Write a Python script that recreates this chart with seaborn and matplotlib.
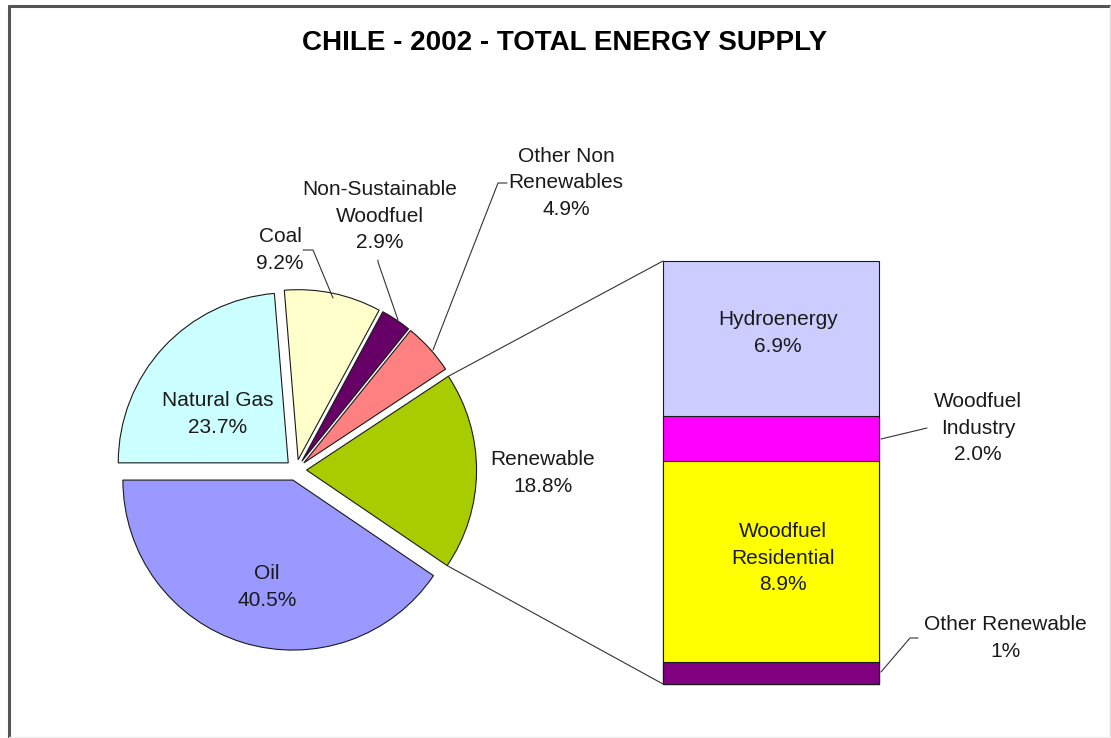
import numpy as np
import matplotlib
matplotlib.use("Agg")
import matplotlib.pyplot as plt
from matplotlib.patches import ConnectionPatch
import seaborn as sns

title = "CHILE - 2002 - TOTAL ENERGY SUPPLY"

# Total energy supply shares (%), counter-clockwise from 9 o'clock
pie_labels = ["Oil", "Renewable", "Other Non\nRenewables",
              "Non-Sustainable\nWoodfuel", "Coal", "Natural Gas"]
pie_values = [40.5, 18.8, 4.9, 2.9, 9.2, 23.7]
pie_colors = ["#9999FF", "#A9CC00", "#FF8080", "#660066", "#FFFFCC", "#CCFFFF"]

# Split of the renewable share, bottom to top
bar_labels = ["Other Renewable", "Woodfuel\nResidential", "Woodfuel\nIndustry", "Hydroenergy"]
bar_values = [1.0, 8.9, 2.0, 6.9]
bar_value_text = ["1%", "8.9%", "2.0%", "6.9%"]
bar_colors = ["#800080", "#FFFF00", "#FF00FF", "#CCCCFF"]

sns.set_theme(style="white")
plt.rcParams["font.family"] = ["Liberation Sans", "DejaVu Sans"]

W, H = 1111, 738
fig = plt.figure(figsize=(W / 100, H / 100), dpi=100)
fig.patch.set_facecolor("white")


def rect(x0, y0, x1, y1):
    return [x0 / W, 1 - y1 / H, (x1 - x0) / W, (y1 - y0) / H]


EDGE = "#1a1a1a"
TXT = "#1a1a1a"

# ---- pie ----
R = 170.0
cx, cy = 296, 470
half = 200
axp = fig.add_axes(rect(cx - half, cy - half, cx + half, cy + half))
wedges, _ = axp.pie(pie_values, colors=pie_colors, startangle=180, counterclock=True,
                    explode=[0.062] * len(pie_values), radius=1.0,
                    wedgeprops=dict(edgecolor=EDGE, linewidth=0.8))
axp.set_xlim(-half / R, half / R)
axp.set_ylim(-half / R, half / R)
axp.axis("off")

# ---- stacked bar for the renewable split ----
axb = fig.add_axes(rect(663, 261, 879, 684))
tops = np.cumsum(bar_values)
for top, col in sorted(zip(tops, bar_colors), reverse=True):
    sns.barplot(x=[0], y=[top], color=col, width=1.0, saturation=1,
                edgecolor=EDGE, linewidth=0.8, ax=axb)
for p in axb.patches:
    p.set_clip_on(False)
axb.set_xlim(-0.5, 0.5)
axb.set_ylim(0, tops[-1])
axb.axis("off")

# connectors from the renewable wedge to the bar
ren = wedges[pie_labels.index("Renewable")]
wc = np.array(ren.center)
for theta, yb in [(ren.theta2, tops[-1]), (ren.theta1, 0.0)]:
    t = np.deg2rad(theta)
    pa = wc + ren.r * np.array([np.cos(t), np.sin(t)])
    con = ConnectionPatch(xyA=tuple(pa), coordsA=axp.transData,
                          xyB=(-0.5, yb), coordsB=axb.transData,
                          color="#333333", linewidth=0.8)
    fig.add_artist(con)

# ---- overlay for text, leaders and frame (pixel coordinates) ----
ov = fig.add_axes([0, 0, 1, 1])
ov.set_xlim(0, W)
ov.set_ylim(H, 0)
ov.axis("off")
ov.patch.set_visible(False)

ov.plot([8.5, 8.5], [5.5, 738], color="#555555", lw=2.2)
ov.plot([8.5, 1111], [5.5, 5.5], color="#555555", lw=2.2)
ov.plot([1109.5, 1109.5], [5.5, 737], color="#dddddd", lw=1)
ov.plot([8.5, 1109.5], [736.5, 736.5], color="#eeeeee", lw=1)

ov.text(565, 43, title, ha="center", va="center", fontsize=20, fontweight="bold", color="black")

FS = 15
LS = 1.52

pie_pos = {
    "Oil": (267, 587),
    "Renewable": (543, 473),
    "Other Non\nRenewables": (566, 183),
    "Non-Sustainable\nWoodfuel": (380, 216),
    "Coal": (280, 250),
    "Natural Gas": (218, 414),
}
for lab, val in zip(pie_labels, pie_values):
    x, y = pie_pos[lab]
    ov.text(x, y, f"{lab}\n{val:.1f}%", ha="center", va="center", fontsize=FS,
            linespacing=LS, color=TXT)

bar_pos = {
    "Other Renewable": (1005, 638),
    "Woodfuel\nResidential": (783, 558),
    "Woodfuel\nIndustry": (978, 428),
    "Hydroenergy": (778, 333),
}
for lab, vt in zip(bar_labels, bar_value_text):
    x, y = bar_pos[lab]
    ov.text(x, y, f"{lab}\n{vt}", ha="center", va="center", fontsize=FS,
            linespacing=LS, color=TXT)

# leader lines
leaders = [
    [(303, 250), (313, 250), (333, 298)],          # Coal
    [(378, 260), (378, 262), (398, 320)],          # Non-Sustainable Woodfuel
    [(507, 183), (498, 183), (433, 350)],          # Other Non Renewables
    [(881, 439), (927, 428)],                      # Woodfuel Industry
    [(881, 672), (910, 638), (918, 638)],          # Other Renewable
]
for pts in leaders:
    xs, ys = zip(*pts)
    ov.plot(xs, ys, color="#333333", lw=0.8)

fig.savefig("out.png", dpi=100, facecolor="white")
